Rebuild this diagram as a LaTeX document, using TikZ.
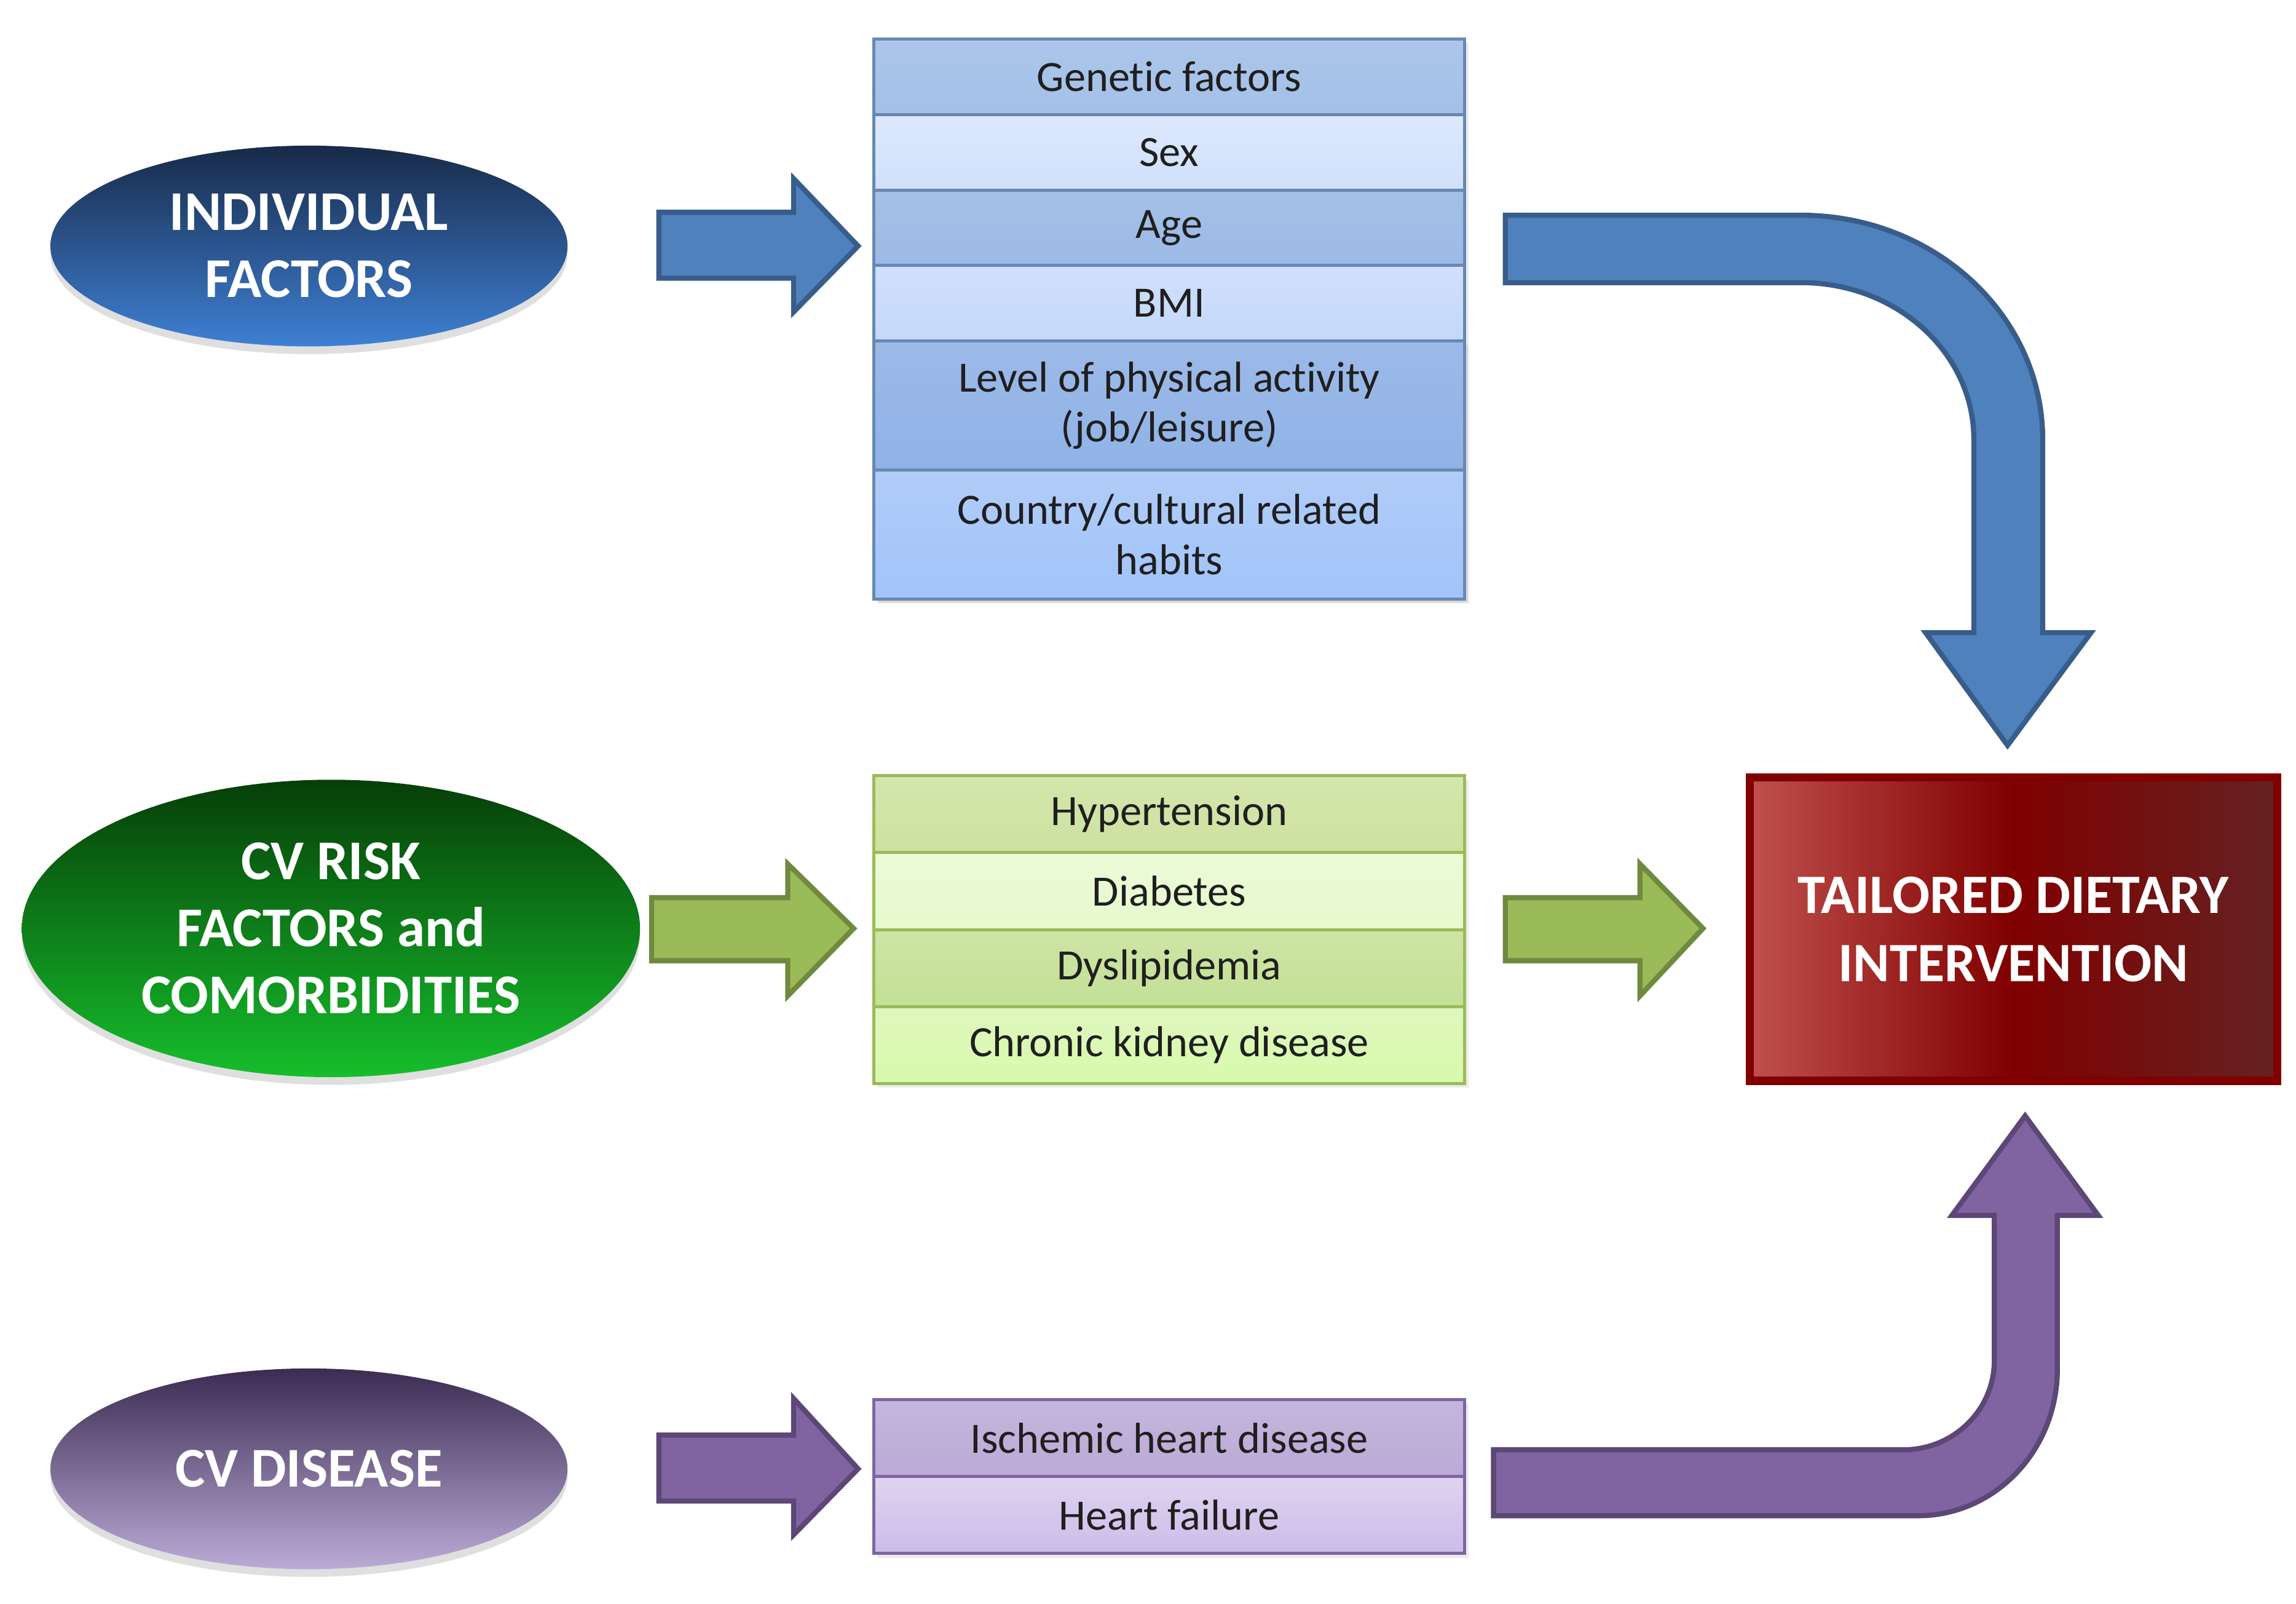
\documentclass[tikz,border=0pt]{standalone}
\usepackage{fontspec}
\setmainfont[Ligatures=NoCommon]{Carlito}
\usetikzlibrary{shapes.geometric,positioning,shadows}
\definecolor{bluefill}{HTML}{4F81BD}
\definecolor{blueline}{HTML}{385D8A}
\definecolor{greenfill}{HTML}{9BBB59}
\definecolor{greenline}{HTML}{71893F}
\definecolor{purplefill}{HTML}{8064A2}
\definecolor{purpleline}{HTML}{5C4776}

\begin{document}
\begin{tikzpicture}[x=0.01cm, y=0.01cm,
        every node/.style={font=\fontsize{8.4}{9.7}\selectfont, align=center, text=black!88},
        factor/.style={ellipse, minimum width=3.53cm, minimum height=1.37cm, inner sep=0pt, text=white,
            font=\fontsize{10.9}{13}\selectfont\bfseries,
            drop shadow={shadow xshift=0pt, shadow yshift=-1.5pt, opacity=0.25}},
        cell/.style={rectangle, minimum width=4.03cm, minimum height=0.515cm, inner sep=0pt, outer sep=0pt,
            line width=0.6pt, drop shadow={shadow xshift=0.8pt, shadow yshift=-0.8pt, opacity=0.15}},
        tallcell/.style={cell, minimum height=0.88cm},
        bluecell/.style={cell, draw=blueline!60!bluefill!80!white},
        greencell/.style={cell, draw=greenfill, minimum height=0.525cm},
        purplecell/.style={cell, draw=purplefill, minimum height=0.525cm},
        blockarrow/.style={line width=1pt, line join=miter}]
    \useasboundingbox (0,0) rectangle (1568,-1095);

    % left hand side
    \node[factor, top color={rgb,255:red,24;green,42;blue,72}, bottom color={rgb,255:red,62;green,128;blue,212}] (indiv) at (211,-168) {INDIVIDUAL\\FACTORS};
    \node[factor, minimum width=4.22cm, minimum height=2.03cm, top color={rgb,255:red,6;green,62;blue,8}, bottom color={rgb,255:red,22;green,190;blue,44}] (risk) at (226,-634) {CV RISK\\FACTORS and\\COMORBIDITIES};
    \node[factor, top color={rgb,255:red,60;green,44;blue,82}, bottom color={rgb,255:red,186;green,170;blue,214}] (disease) at (211,-1003) {CV DISEASE};

    % straight arrows
    \draw[blockarrow, fill=bluefill, draw=blueline] (450,-145) -- (542,-145) -- (542,-122) -- (586,-168) -- (542,-213) -- (542,-190) -- (450,-190) -- cycle;
    \draw[blockarrow, fill=greenfill, draw=greenline] (445,-613) -- (538,-613) -- (538,-590) -- (583,-634) -- (538,-680) -- (538,-656) -- (445,-656) -- cycle;
    \draw[blockarrow, fill=greenfill, draw=greenline] (1028,-613) -- (1120,-613) -- (1120,-590) -- (1163,-634) -- (1120,-680) -- (1120,-656) -- (1028,-656) -- cycle;
    \draw[blockarrow, fill=purplefill, draw=purpleline] (450,-980) -- (542,-980) -- (542,-955) -- (586,-1003) -- (542,-1048) -- (542,-1025) -- (450,-1025) -- cycle;

    % tables
    \node[bluecell, top color={rgb,255:red,172;green,198;blue,234}, bottom color={rgb,255:red,164;green,192;blue,232}] (gen) at (798.5,-52.5) {Genetic factors};
    \node[bluecell, top color={rgb,255:red,220;green,232;blue,253}, bottom color={rgb,255:red,208;green,224;blue,252}, below=0pt of gen] (sex) {Sex};
    \node[bluecell, top color={rgb,255:red,164;green,192;blue,232}, bottom color={rgb,255:red,156;green,186;blue,230}, below=0pt of sex] (age) {Age};
    \node[bluecell, top color={rgb,255:red,208;green,224;blue,252}, bottom color={rgb,255:red,196;green,216;blue,250}, below=0pt of age] (bmi) {BMI};
    \node[bluecell, tallcell, top color={rgb,255:red,156;green,186;blue,232}, bottom color={rgb,255:red,144;green,178;blue,230}, below=0pt of bmi] (activity) {Level of physical activity\\(job/leisure)};
    \node[bluecell, tallcell, top color={rgb,255:red,176;green,204;blue,248}, bottom color={rgb,255:red,162;green,196;blue,250}, below=0pt of activity] (habits) {Country/cultural related\\habits};

    \node[greencell, top color={rgb,255:red,212;green,230;blue,172}, bottom color={rgb,255:red,204;green,226;blue,160}] (hyper) at (798.5,-556) {Hypertension};
    \node[greencell, top color={rgb,255:red,236;green,250;blue,216}, bottom color={rgb,255:red,230;green,250;blue,204}, below=0pt of hyper] (diab) {Diabetes};
    \node[greencell, top color={rgb,255:red,206;green,228;blue,164}, bottom color={rgb,255:red,196;green,224;blue,150}, below=0pt of diab] (dys) {Dyslipidemia};
    \node[greencell, top color={rgb,255:red,224;green,246;blue,190}, bottom color={rgb,255:red,216;green,250;blue,172}, below=0pt of dys] (ckd) {Chronic kidney disease};

    \node[purplecell, top color={rgb,255:red,196;green,182;blue,220}, bottom color={rgb,255:red,186;green,170;blue,214}] (ihd) at (798.5,-982) {Ischemic heart disease};
    \node[purplecell, top color={rgb,255:red,222;green,212;blue,240}, bottom color={rgb,255:red,204;green,188;blue,232}, below=0pt of ihd] (hf) {Heart failure};

    % target
    \node[rectangle, minimum width=3.6cm, minimum height=2.07cm, draw={rgb,255:red,128;green,0;blue,0}, line width=1.6pt,
        left color={rgb,255:red,192;green,80;blue,77}, right color={rgb,255:red,100;green,34;blue,34}, middle color={rgb,255:red,128;green,0;blue,0},
        text=white, font=\fontsize{10.8}{13.3}\selectfont\bfseries] (diet) at (1375,-634.5) {TAILORED DIETARY\\INTERVENTION};

    % curved arrows
    \draw[blockarrow, fill=bluefill, draw=blueline] (1028,-147) -- (1230,-147) arc[start angle=90, end angle=0, x radius=165, y radius=153]
        -- (1395,-432) -- (1428,-432) -- (1371,-509) -- (1315,-432) -- (1348,-432) -- (1348,-300)
        arc[start angle=0, end angle=90, x radius=118, y radius=107] -- (1028,-193) -- cycle;
    \draw[blockarrow, fill=purplefill, draw=purpleline] (1020,-990) -- (1300,-990) arc[start angle=270, end angle=360, x radius=62, y radius=61]
        -- (1362,-830) -- (1333,-830) -- (1383,-762) -- (1433,-830) -- (1405,-830) -- (1405,-935)
        arc[start angle=0, end angle=-90, x radius=95, y radius=100] -- (1020,-1035) -- cycle;
\end{tikzpicture}
\end{document}
